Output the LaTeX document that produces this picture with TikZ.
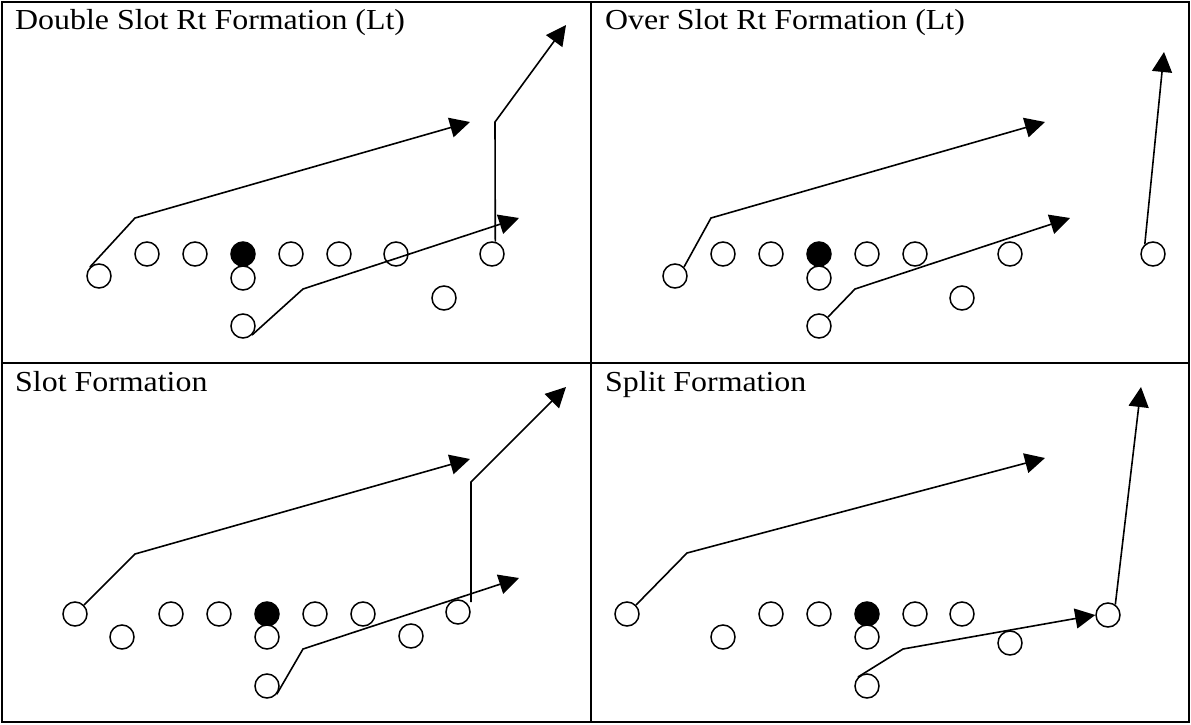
\documentclass[tikz,border=0pt]{standalone}
\usepackage{fontspec}
\newfontfamily\titlefont[FakeStretch=1.1]{Liberation Serif}
\usetikzlibrary{arrows.meta}

\begin{document}
\begin{tikzpicture}[
    x=1pt, y=-1pt,
    frame/.style   ={draw=black, line width=2pt},
    title/.style   ={anchor=base west, inner sep=0pt,
                     font=\titlefont\fontsize{29}{34}\selectfont},
    player/.style  ={circle, draw=black, line width=1.5pt, fill=white,
                     minimum size=24pt, inner sep=0pt},
    center/.style  ={player, fill=black},
    route/.style   ={-{Triangle[length=20pt, width=20pt]}, line width=1.6pt,
                     line join=miter},
  ]
  \useasboundingbox (0,0) rectangle (1191,725);

  % ---- frame and panels ----
  \draw[frame] (2,2) rectangle (1189,722);
  \draw[frame] (591,2) -- (591,722);
  \draw[frame] (2,363) -- (1189,363);

  % ---- titles ----
  \node[title] (tDS) at (15,30)   {Double Slot Rt Formation (Lt)};
  \node[title] (tOS) at (605,30)  {Over Slot Rt Formation (Lt)};
  \node[title] (tSL) at (15,391)  {Slot Formation};
  \node[title] (tSP) at (605,391) {Split Formation};

  % ---- double slot rt (top left) ----
  \node[player] (aLT) at (147,254) {};
  \node[player] (aLG) at (195,254) {};
  \node[center] (aC)  at (243,254) {};
  \node[player] (aRG) at (291,254) {};
  \node[player] (aRT) at (339,254) {};
  \node[player] (aTE) at (396,254) {};
  \node[player] (aWR) at (492,254) {};
  \node[player] (aLW) at (99,276)  {};
  \node[player] (aQB) at (243,278) {};
  \node[player] (aTB) at (243,326) {};
  \node[player] (aSB) at (444,298) {};

  \coordinate (aLWcut) at (135,218);
  \coordinate (aLWend) at (470,122);
  \coordinate (aTBcut) at (303,289);
  \coordinate (aTBend) at (519,218);
  \coordinate (aWRcut) at (495,122);
  \coordinate (aWRend) at (566,25);
  \draw[route] (aLW.135) -- (aLWcut) -- (aLWend);
  \draw[route] (aTB.-45) -- (aTBcut) -- (aTBend);
  \draw[route] (aWR.75) -- (aWRcut) -- (aWRend);

  % ---- over slot rt (top right) ----
  \node[player] (bLT) at (723,254)  {};
  \node[player] (bLG) at (771,254)  {};
  \node[center] (bC)  at (819,254)  {};
  \node[player] (bRG) at (867,254)  {};
  \node[player] (bRT) at (915,254)  {};
  \node[player] (bTE) at (1010,254) {};
  \node[player] (bWR) at (1153,254) {};
  \node[player] (bLW) at (675,276)  {};
  \node[player] (bQB) at (819,278)  {};
  \node[player] (bTB) at (819,326)  {};
  \node[player] (bSB) at (962,298)  {};

  \coordinate (bLWcut) at (711,218);
  \coordinate (bLWend) at (1045,122);
  \coordinate (bTBcut) at (855,289);
  \coordinate (bTBend) at (1070,218);
  \coordinate (bWRend) at (1164,52);
  \draw[route] (bLW.45) -- (bLWcut) -- (bLWend);
  \draw[route] (bTB.45) -- (bTBcut) -- (bTBend);
  \draw[route] (bWR.130) -- (bWRend);

  % ---- slot (bottom left) ----
  \node[player] (cLE) at (75,614)  {};
  \node[player] (cLT) at (171,614) {};
  \node[player] (cLG) at (219,614) {};
  \node[center] (cC)  at (267,614) {};
  \node[player] (cRG) at (315,614) {};
  \node[player] (cRT) at (363,614) {};
  \node[player] (cWR) at (458,612) {};
  \node[player] (cLW) at (122,637) {};
  \node[player] (cQB) at (267,637) {};
  \node[player] (cSB) at (411,636) {};
  \node[player] (cTB) at (267,686) {};

  \coordinate (cLEcut) at (135,554);
  \coordinate (cLEend) at (470,459);
  \coordinate (cTBcut) at (303,649);
  \coordinate (cTBend) at (519,578);
  \coordinate (cWRcut) at (471,482);
  \coordinate (cWRend) at (566,387);
  \draw[route] (cLE.45) -- (cLEcut) -- (cLEend);
  \draw[route] (cTB.-40) -- (cTBcut) -- (cTBend);
  \draw[route] (cWRcut |- cWR.50) -- (cWRcut) -- (cWRend);

  % ---- split (bottom right) ----
  \node[player] (dLE) at (627,614)  {};
  \node[player] (dLT) at (771,614)  {};
  \node[player] (dLG) at (819,614)  {};
  \node[center] (dC)  at (867,614)  {};
  \node[player] (dRG) at (915,614)  {};
  \node[player] (dRT) at (962,614)  {};
  \node[player] (dWR) at (1108,615) {};
  \node[player] (dLW) at (723,637)  {};
  \node[player] (dQB) at (867,637)  {};
  \node[player] (dSB) at (1010,643) {};
  \node[player] (dTB) at (867,686)  {};

  \coordinate (dLEcut) at (687,553);
  \coordinate (dLEend) at (1045,458);
  \coordinate (dTBcut) at (903,649);
  \draw[route] (dLE.45) -- (dLEcut) -- (dLEend);
  \draw[route] (dTB.135) -- (dTBcut) -- (dWR.west);
  \coordinate (dWRend) at (1141,387);
  \draw[route] (dWR.55) -- (dWRend);

\end{tikzpicture}
\end{document}
